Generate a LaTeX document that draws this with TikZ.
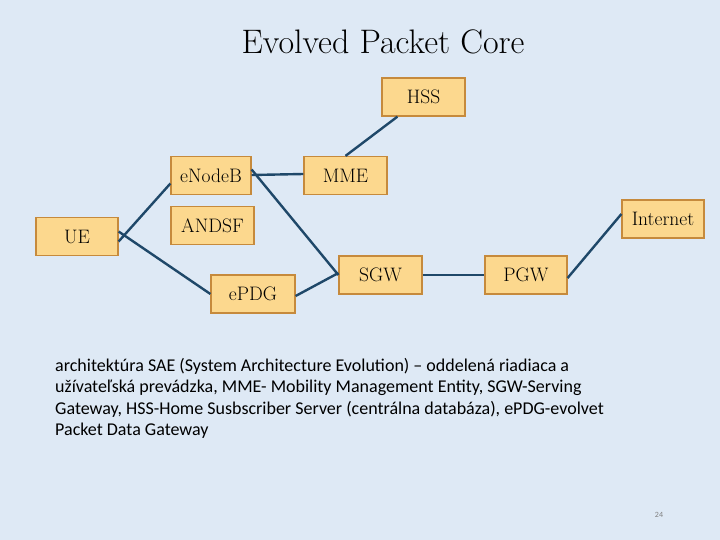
\documentclass[tikz,border=0pt]{standalone}
\usepackage{fontspec}
\newfontfamily\carl{Carlito}
\definecolor{bg}{HTML}{DEE9F5}
\definecolor{boxf}{HTML}{FCD88E}
\definecolor{boxd}{HTML}{C68A3C}
\definecolor{ln}{HTML}{1F4869}
\begin{document}
\begin{tikzpicture}[x=1pt,y=-1pt,
 bx/.style={draw=boxd,fill=boxf,line width=1.2pt,minimum height=38pt,inner sep=0pt,font=\fontsize{19.5}{22}\selectfont},
 cn/.style={draw=ln,line width=2.4pt}]
\fill[bg] (0,0) rectangle (720,540);
\useasboundingbox (0,0) rectangle (720,540);
\node[font=\fontsize{34}{38}\selectfont] (t) at (383,42) {Evolved Packet Core};
\node[bx,minimum width=83pt] (hss) at (423.5,97) {HSS};
\node[bx,minimum width=80pt] (enb) at (211,175.5) {eNodeB};
\node[bx,minimum width=83pt] (mme) at (345.5,175.5) {MME};
\node[bx,minimum width=83pt] (andsf) at (212.5,225.5) {ANDSF};
\node[bx,minimum width=82pt] (ue) at (77,236.5) {UE};
\node[bx,minimum width=82pt] (inet) at (663,219) {Internet};
\node[bx,minimum width=83pt] (sgw) at (380.5,275) {SGW};
\node[bx,minimum width=82pt] (pgw) at (526,275) {PGW};
\node[bx,minimum width=84pt] (epdg) at (253,294) {ePDG};
\draw[cn] ([yshift=-5pt]ue.east) -- ([yshift=-8pt]enb.west);
\draw[cn] ([yshift=5pt]ue.east) -- (epdg.west);
\draw[cn] ([yshift=0.5pt]enb.east) -- ([yshift=1.5pt]mme.west);
\draw[cn] ([yshift=6pt]enb.east) -- ([yshift=0pt]sgw.west);
\draw[cn] ([yshift=-2pt]epdg.east) -- ([yshift=2pt]sgw.west);
\draw[cn] ([xshift=0pt]mme.north) -- ([xshift=-26pt]hss.south);
\draw[cn] (sgw.east) -- (pgw.west);
\draw[cn] ([yshift=-3pt]pgw.east) -- ([yshift=5pt]inet.west);
\node[anchor=north west,align=left,font=\carl\fontsize{18}{21.5}\selectfont,inner sep=0pt] (txt) at (55,358)
{architektúra SAE (System Architecture Evolution) – oddelená riadiaca a\\
užívateľská prevádzka, MME- Mobility Management Entity, SGW-Serving\\
Gateway, HSS-Home Susbscriber Server (centrálna databáza), ePDG-evolvet\\
Packet Data Gateway};
\node[font=\carl\fontsize{8}{9}\selectfont,text=gray] (pn) at (659,515) {24};
\end{tikzpicture}
\end{document}
